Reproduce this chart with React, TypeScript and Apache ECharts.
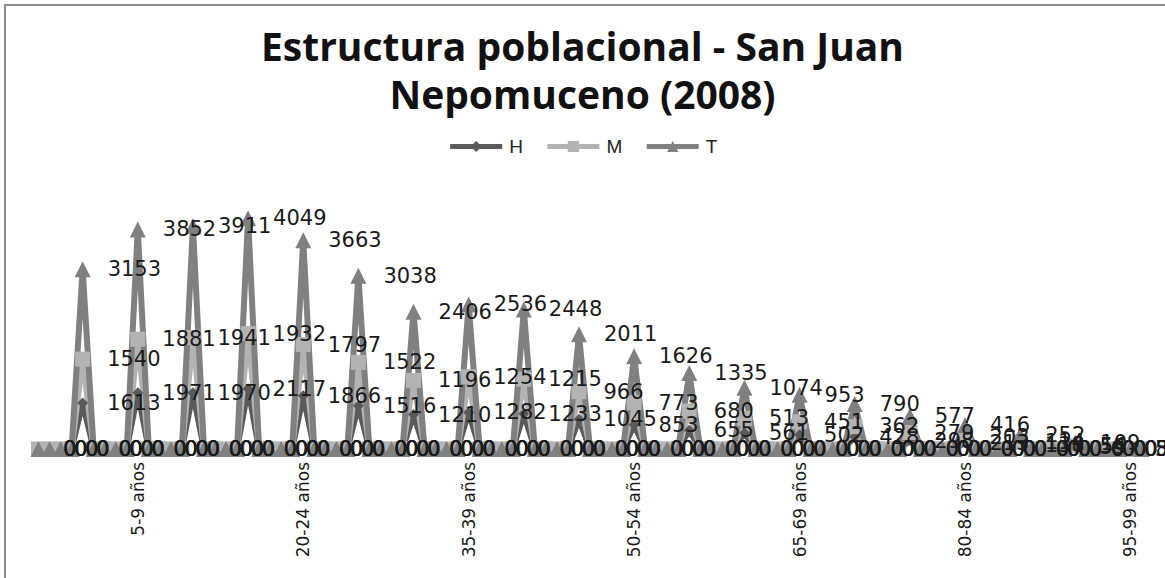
import React, { useEffect, useRef } from "react";
import * as echarts from "echarts";

const ageGroups = [
  "0-4 años", "5-9 años", "10-14 años", "15-19 años", "20-24 años",
  "25-29 años", "30-34 años", "35-39 años", "40-44 años", "45-49 años",
  "50-54 años", "55-59 años", "60-64 años", "65-69 años", "70-74 años",
  "75-79 años", "80-84 años", "85-89 años", "90-94 años", "95-99 años",
];
const hValues = [1613, 1971, 1970, 2117, 1866, 1516, 1210, 1282, 1233, 1045, 853, 655, 561, 502, 428, 298, 213, 138, 55, 5];
const mValues = [1540, 1881, 1941, 1932, 1797, 1522, 1196, 1254, 1215, 966, 773, 680, 513, 451, 362, 279, 203, 114, 54, 3];
const tValues = [3153, 3852, 3911, 4049, 3663, 3038, 2406, 2536, 2448, 2011, 1626, 1335, 1074, 953, 790, 577, 416, 252, 109, 8];
// each age group row in the sheet is preceded by 4 empty (zero) rows
const zeroRowsBefore = 4;

function buildCategories(): string[] {
  const out: string[] = [];
  ageGroups.forEach((g) => {
    for (let i = 0; i < zeroRowsBefore; i++) out.push("");
    out.push(g);
  });
  out.push("");
  return out;
}
function buildSeries(vals: number[]): number[] {
  const out: number[] = [];
  vals.forEach((v) => {
    for (let i = 0; i < zeroRowsBefore; i++) out.push(0);
    out.push(v);
  });
  out.push(0);
  return out;
}

export default function App() {
  const ref = useRef<HTMLDivElement>(null);
  useEffect(() => {
    if (!ref.current) return;
    const chart = echarts.init(ref.current, null, { renderer: "svg" });
    const categories = buildCategories();
    const labelStyle = (dist: number) => ({
      show: true,
      position: "right" as const,
      distance: dist,
      color: "#1a1a1a",
      fontFamily: "DejaVu Sans",
      fontSize: 21,
    });
    const common = {
      type: "line" as const,
      stack: "total",
      showAllSymbol: true,
      labelLayout: { hideOverlap: false },
    };
    chart.setOption({
      animation: false,
      backgroundColor: "#ffffff",
      title: {
        text: "Estructura poblacional - San Juan\nNepomuceno (2008)",
        left: "center",
        top: 16,
        textStyle: {
          fontFamily: "Open Sans",
          fontWeight: "bold",
          fontSize: 39,
          lineHeight: 48,
          color: "#111111",
        },
      },
      legend: {
        top: 132,
        left: "center",
        itemWidth: 52,
        itemHeight: 14,
        itemGap: 22,
        textStyle: { fontFamily: "Liberation Sans", fontSize: 19, color: "#222222", padding: [0, 0, 0, 2] },
        lineStyle: { width: 5 },
        data: ["H", "M", "T"],
      },
      graphic: [
        {
          type: "rect",
          shape: { x: 5, y: 5, width: 1200, height: 600 },
          style: { fill: "none", stroke: "#8c8c8c", lineWidth: 2 },
          silent: true,
        },
      ],
      grid: { left: 33, right: 18, top: 164, bottom: 129, containLabel: false },
      xAxis: {
        type: "category",
        data: categories,
        boundaryGap: true,
        axisLine: { show: false },
        axisTick: { show: false },
        axisLabel: {
          interval: (index: number) => index % 15 === 9,
          rotate: 90,
          margin: 13,
          fontFamily: "DejaVu Sans",
          fontSize: 17,
          color: "#1a1a1a",
        },
      },
      yAxis: { type: "value", min: 0, max: 10000, show: false },
      series: [
        {
          ...common,
          name: "H",
          data: buildSeries(hValues),
          symbol: "diamond",
          symbolSize: 11,
          lineStyle: { width: 6, color: "#5a5a5a" },
          itemStyle: { color: "#5a5a5a" },
          label: labelStyle(19),
        },
        {
          ...common,
          name: "M",
          data: buildSeries(mValues),
          symbol: "rect",
          symbolSize: 15,
          lineStyle: { width: 6, color: "#b3b3b3" },
          itemStyle: { color: "#b3b3b3" },
          label: labelStyle(17),
        },
        {
          ...common,
          name: "T",
          data: buildSeries(tValues),
          symbol: "triangle",
          symbolSize: 16,
          lineStyle: { width: 6, color: "#808080" },
          itemStyle: { color: "#808080" },
          label: labelStyle(17),
        },
      ],
    });
    return () => chart.dispose();
  }, []);
  return (
    <div
      ref={ref}
      style={{ position: "absolute", left: 0, top: 0, width: 1165, height: 578 }}
    />
  );
}
